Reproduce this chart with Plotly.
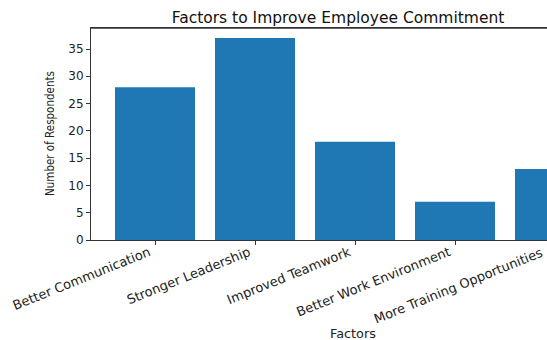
import plotly.graph_objects as go

categories = ["Better Communication", "Stronger Leadership", "Improved Teamwork",
              "Better Work Environment", "More Training Opportunities"]
respondents = [28, 37, 18, 7, 13]
y_ticks = [0, 5, 10, 15, 20, 25, 30, 35]

title_text = "Factors to Improve Employee Commitment"
x_label = "Factors"
y_label = "Number of Respondents"

BAR = "#1f77b4"
FONT = "DejaVu Sans"
TXT = "#222"
SPINE = "#333"

W, H = 547, 340
L, R, T, B = 91, 0, 28, 100
PW, PH = W - L - R, H - T - B

fig = go.Figure()
fig.add_trace(go.Bar(
    x=list(range(len(categories))), y=respondents,
    marker=dict(color=BAR, line=dict(width=0)),
    width=0.8,
))

fig.update_layout(
    width=W, height=H,
    margin=dict(l=L, r=R, t=T, b=B, autoexpand=False),
    paper_bgcolor="white", plot_bgcolor="white",
    showlegend=False,
    font=dict(family=FONT, size=12, color=TXT),
    title=dict(text=title_text, x=(338 - L) / PW, xref="paper", xanchor="center",
               y=1 - 18 / H, yref="container", yanchor="middle",
               font=dict(family=FONT, size=15.5, color="#111")),
    xaxis=dict(
        range=[-0.64, -0.64 + PW / 100],
        tickmode="array", tickvals=list(range(len(categories))), ticktext=categories,
        tickangle=-22, ticks="outside", ticklen=4, tickcolor=SPINE,
        ticklabelshift=-6, ticklabelstandoff=-5,
        showline=True, linecolor=SPINE, linewidth=1, mirror=True,
        showgrid=False, zeroline=False,
        tickfont=dict(family=FONT, size=13, color=TXT),
    ),
    yaxis=dict(
        range=[0, 38.85],
        tickmode="array", tickvals=y_ticks,
        ticks="outside", ticklen=4, tickcolor=SPINE,
        showline=True, linecolor=SPINE, linewidth=1, mirror=False,
        showgrid=False, zeroline=False,
        tickfont=dict(family=FONT, size=12, color=TXT),
    ),
)

# top spine of the axes box (drawn in pixels just below the top margin)
fig.add_shape(type="line", xref="paper", yref="y", x0=0, x1=1, y0=38.85, y1=38.85,
              line=dict(color=SPINE, width=1.5), layer="above")

# last category label sits beyond the visible x range (the chart is cropped)
fig.add_annotation(
    x=(554 - L) / PW, y=0, xref="paper", yref="paper",
    text=categories[-1], showarrow=False, textangle=-22,
    xanchor="right", yanchor="top", xshift=-6, yshift=-2,
    font=dict(family=FONT, size=13, color=TXT),
)
fig.add_annotation(
    x=(353 - L) / PW, y=(T + PH - 333) / PH, xref="paper", yref="paper",
    text=x_label, showarrow=False, xanchor="center", yanchor="middle",
    font=dict(family=FONT, size=12.8, color=TXT),
)
fig.add_annotation(
    x=(50 - L) / PW, y=0.5, xref="paper", yref="paper",
    text=y_label, showarrow=False, textangle=-90, xanchor="center", yanchor="middle",
    font=dict(family="DejaVu Sans Condensed, Liberation Sans Narrow, sans-serif",
              size=11.5, color=TXT),
)

fig.write_html("out.html", config={"displayModeBar": False},
               post_script="document.body.style.margin='0';")
